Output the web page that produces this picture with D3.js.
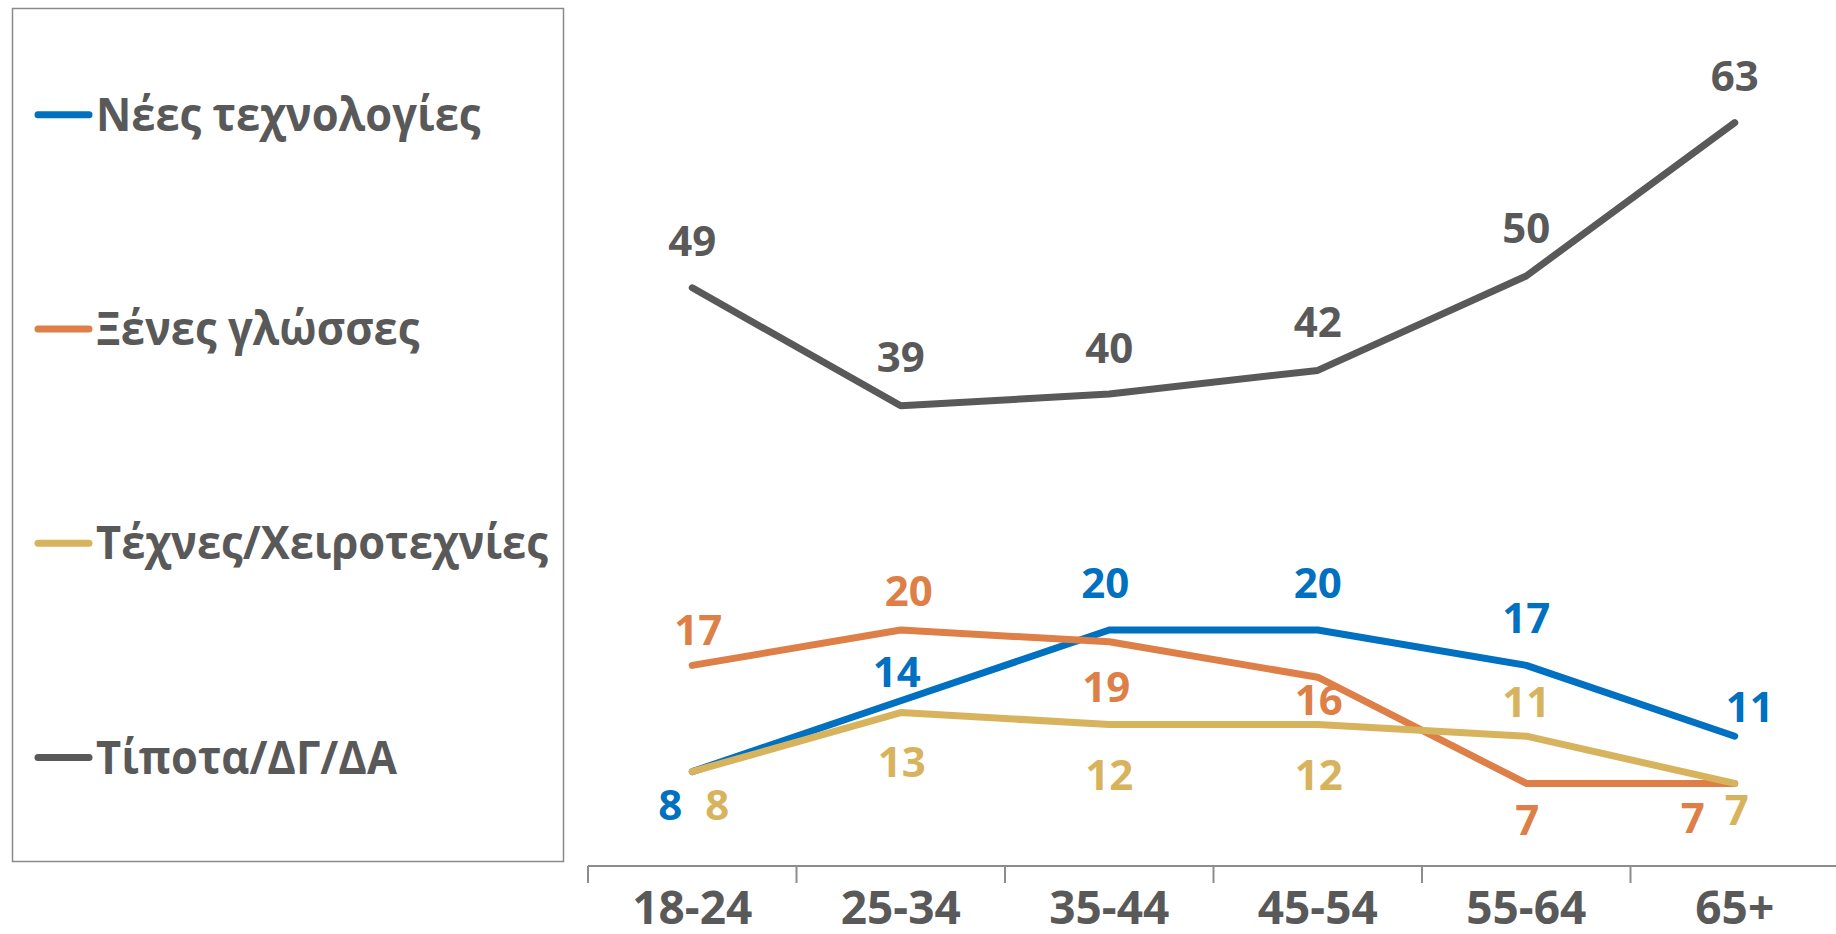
<!DOCTYPE html>
<html>
<head>
<meta charset="utf-8">
<script src="https://cdn.jsdelivr.net/npm/d3@7"></script>
<style>
  html, body { margin: 0; padding: 0; background: #fff; }
  svg { display: block; }
  text { font-family: "Open Sans", "Noto Sans", sans-serif; font-weight: 700; }
</style>
</head>
<body>
<svg id="chart" width="1836" height="934"></svg>
<script>
// ---- Data ----
const categories = ["18-24", "25-34", "35-44", "45-54", "55-64", "65+"];
const seriesNames = ["Νέες τεχνολογίες", "Ξένες γλώσσες", "Τέχνες/Χειροτεχνίες", "Τίποτα/ΔΓ/ΔΑ"];
const newTech   = [8, 14, 20, 20, 17, 11];
const languages = [17, 20, 19, 16, 7, 7];
const arts      = [8, 13, 12, 12, 11, 7];
const nothing   = [49, 39, 40, 42, 50, 63];

// ---- Styles / layout ----
const colors = ["#0070C0", "#DE7F47", "#D8B35D", "#595959"];
const textGray = "#595959";
// label offsets [dx, dy(baseline)] relative to each point
const labelOffsets = [
  [[-22, 48], [-4, -14], [-4, -32], [0, -32], [0, -32], [15, -14]],
  [[6, -20], [8, -24], [-3, 60], [1, 38], [1, 52], [-42, 50]],
  [[25, 48], [1, 64], [0, 66], [1, 66], [0, -19], [2, 42]],
  [[0, -32], [0, -34], [0, -31], [0, -33], [0, -33], [0, -32]]
];
const seriesValues = [newTech, languages, arts, nothing];

const svg = d3.select("#chart");

const x = d3.scaleBand().domain(categories).range([588, 1839]).paddingInner(0).paddingOuter(0);
const y = d3.scaleLinear().domain([0, 70]).range([866, 866 - 70 * 11.8]);

// Legend box
svg.append("rect")
  .attr("x", 12.5).attr("y", 8.5).attr("width", 551).attr("height", 853)
  .attr("fill", "none").attr("stroke", "#8a8a8a").attr("stroke-width", 1.5);

// Axis
const axisG = svg.append("g").attr("transform", `translate(0,${y(0)})`);
axisG.append("line")
  .attr("x1", 588).attr("x2", 1836).attr("y1", 0).attr("y2", 0)
  .attr("stroke", "#8c8c8c").attr("stroke-width", 2);
const tickPos = categories.map(c => x(c)).concat([x(categories[categories.length - 1]) + x.bandwidth()]);
axisG.selectAll("line.tick").data(tickPos).join("line")
  .attr("class", "tick")
  .attr("x1", d => d).attr("x2", d => d).attr("y1", 0).attr("y2", 17)
  .attr("stroke", "#8c8c8c").attr("stroke-width", 2);
axisG.selectAll("text.cat").data(categories).join("text")
  .attr("class", "cat")
  .attr("x", d => x(d) + x.bandwidth() / 2)
  .attr("y", 58)
  .attr("text-anchor", "middle")
  .attr("font-size", 46)
  .attr("fill", textGray)
  .text(d => d);

const cx = i => x(categories[i]) + x.bandwidth() / 2;
const line = d3.line().x((d, i) => cx(i)).y(d => y(d));

// Lines
seriesValues.forEach((vals, s) => {
  svg.append("path")
    .attr("d", line(vals))
    .attr("fill", "none")
    .attr("stroke", colors[s])
    .attr("stroke-width", 7)
    .attr("stroke-linejoin", "round")
    .attr("stroke-linecap", "round");
});

// Labels
seriesValues.forEach((vals, s) => {
  svg.append("g").selectAll("text").data(vals).join("text")
    .attr("x", (d, i) => cx(i) + labelOffsets[s][i][0])
    .attr("y", (d, i) => y(d) + labelOffsets[s][i][1])
    .attr("text-anchor", "middle")
    .attr("font-size", 42)
    .attr("fill", s === 3 ? textGray : colors[s])
    .text(d => d);
});

// Legend
const legendY = d3.scaleLinear().domain([0, 3]).range([114.7, 757.6]);
const leg = svg.append("g");
seriesNames.forEach((name, s) => {
  const ly = legendY(s);
  leg.append("line")
    .attr("x1", 38).attr("x2", 89).attr("y1", ly).attr("y2", ly)
    .attr("stroke", colors[s]).attr("stroke-width", 7).attr("stroke-linecap", "round");
  leg.append("text")
    .attr("transform", `translate(96,${ly + 16}) scale(0.925,1)`)
    .attr("font-size", 47)
    .attr("fill", textGray)
    .text(name);
});
</script>
</body>
</html>
